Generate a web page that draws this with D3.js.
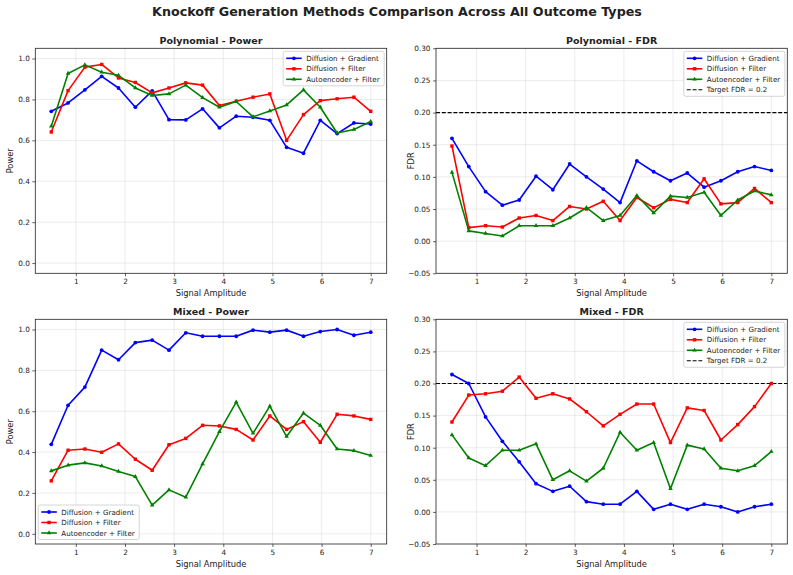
<!DOCTYPE html>
<html>
<head>
<meta charset="utf-8">
<script src="https://cdn.jsdelivr.net/npm/d3@7"></script>
<style>
  body { margin: 0; background: #fff; }
  svg text { font-family: "DejaVu Sans", sans-serif; fill: #222; }
  .tick line { stroke: #222; }
  .domain { display: none; }
</style>
</head>
<body>
<svg id="fig" width="793" height="575"></svg>
<script>
// signal amplitudes (x)
var amplitudes = [0.5, 0.842, 1.184, 1.526, 1.868, 2.211, 2.553, 2.895, 3.237, 3.579,
                  3.921, 4.263, 4.605, 4.947, 5.289, 5.632, 5.974, 6.316, 6.658, 7.0];

var methods = ["Diffusion + Gradient", "Diffusion + Filter", "Autoencoder + Filter"];
var colors = ["#0000ff", "#ff0000", "#008000"];
var markers = ["circle", "square", "triangle"];

// Polynomial - Power
var polyPowerGrad   = [0.742, 0.783, 0.847, 0.913, 0.856, 0.762, 0.842, 0.701, 0.700, 0.754,
                       0.661, 0.718, 0.713, 0.698, 0.566, 0.537, 0.698, 0.633, 0.685, 0.680];
var polyPowerFilter = [0.641, 0.843, 0.958, 0.971, 0.905, 0.883, 0.832, 0.856, 0.881, 0.870,
                       0.770, 0.791, 0.811, 0.827, 0.600, 0.726, 0.794, 0.803, 0.811, 0.742];
var polyPowerAE     = [0.669, 0.927, 0.969, 0.933, 0.918, 0.856, 0.819, 0.827, 0.870, 0.809,
                       0.762, 0.790, 0.715, 0.744, 0.773, 0.847, 0.762, 0.636, 0.653, 0.692];

// Polynomial - FDR
var polyFdrGrad   = [0.160, 0.116, 0.077, 0.056, 0.064, 0.101, 0.080, 0.120, 0.100, 0.081,
                     0.060, 0.125, 0.108, 0.094, 0.106, 0.084, 0.094, 0.108, 0.116, 0.110];
var polyFdrFilter = [0.148, 0.021, 0.024, 0.022, 0.036, 0.040, 0.032, 0.054, 0.050, 0.062,
                     0.032, 0.068, 0.052, 0.065, 0.060, 0.097, 0.058, 0.060, 0.082, 0.060];
var polyFdrAE     = [0.107, 0.016, 0.012, 0.008, 0.024, 0.024, 0.024, 0.036, 0.052, 0.032,
                     0.040, 0.071, 0.044, 0.070, 0.068, 0.076, 0.040, 0.064, 0.078, 0.072];

// Mixed - Power
var mixedPowerGrad   = [0.438, 0.629, 0.718, 0.899, 0.852, 0.936, 0.948, 0.899, 0.984, 0.967,
                        0.967, 0.967, 0.997, 0.987, 0.997, 0.967, 0.990, 1.000, 0.972, 0.987];
var mixedPowerFilter = [0.259, 0.409, 0.415, 0.399, 0.440, 0.365, 0.311, 0.436, 0.467, 0.531,
                        0.528, 0.511, 0.459, 0.577, 0.511, 0.549, 0.448, 0.585, 0.577, 0.560];
var mixedPowerAE     = [0.308, 0.336, 0.347, 0.332, 0.305, 0.280, 0.140, 0.215, 0.179, 0.342,
                        0.500, 0.645, 0.492, 0.625, 0.476, 0.591, 0.531, 0.415, 0.407, 0.383];

// Mixed - FDR
var mixedFdrGrad   = [0.214, 0.200, 0.148, 0.110, 0.078, 0.044, 0.032, 0.040, 0.016, 0.012,
                      0.012, 0.032, 0.004, 0.012, 0.004, 0.012, 0.008, 0.000, 0.008, 0.012];
var mixedFdrFilter = [0.140, 0.182, 0.184, 0.188, 0.210, 0.177, 0.184, 0.176, 0.156, 0.134,
                      0.152, 0.168, 0.168, 0.108, 0.162, 0.158, 0.112, 0.136, 0.164, 0.200];
var mixedFdrAE     = [0.120, 0.084, 0.072, 0.096, 0.096, 0.106, 0.050, 0.064, 0.048, 0.068,
                      0.124, 0.096, 0.108, 0.036, 0.104, 0.098, 0.068, 0.064, 0.072, 0.094];

var xTicks = [1, 2, 3, 4, 5, 6, 7];
var powerTicks = [0.0, 0.2, 0.4, 0.6, 0.8, 1.0];
var fdrTicks = [-0.05, 0.00, 0.05, 0.10, 0.15, 0.20, 0.25, 0.30];
var targetFdr = 0.2;

var svg = d3.select("#fig");

svg.append("text")
    .attr("x", 397).attr("y", 16)
    .attr("text-anchor", "middle")
    .style("font-size", "12.7px").style("font-weight", "bold")
    .text("Knockoff Generation Methods Comparison Across All Outcome Types");

var panels = [
    {title: "Polynomial - Power", ylabel: "Power", series: [polyPowerGrad, polyPowerFilter, polyPowerAE],
     x0: 35.3, x1: 386.7, y0: 48.3, y1: 273.3, ydom: [-0.05, 1.05], yticks: powerTicks, fmt: d3.format(".1f"),
     target: false, legend: "tr"},
    {title: "Polynomial - FDR", ylabel: "FDR", series: [polyFdrGrad, polyFdrFilter, polyFdrAE],
     x0: 436, x1: 787.3, y0: 48.3, y1: 273.3, ydom: [-0.05, 0.30], yticks: fdrTicks, fmt: d3.format(".2f"),
     target: true, legend: "tr"},
    {title: "Mixed - Power", ylabel: "Power", series: [mixedPowerGrad, mixedPowerFilter, mixedPowerAE],
     x0: 35.3, x1: 386.7, y0: 319.3, y1: 544, ydom: [-0.05, 1.05], yticks: powerTicks, fmt: d3.format(".1f"),
     target: false, legend: "bl"},
    {title: "Mixed - FDR", ylabel: "FDR", series: [mixedFdrGrad, mixedFdrFilter, mixedFdrAE],
     x0: 436, x1: 787.3, y0: 319.3, y1: 544, ydom: [-0.05, 0.30], yticks: fdrTicks, fmt: d3.format(".2f"),
     target: true, legend: "tr"}
];

function drawMarker(g, type, x, y, color) {
    if (type === "circle") {
        g.append("circle").attr("cx", x).attr("cy", y).attr("r", 1.9).attr("fill", color);
    } else if (type === "square") {
        g.append("rect").attr("x", x - 1.7).attr("y", y - 1.7).attr("width", 3.4).attr("height", 3.4).attr("fill", color);
    } else {
        g.append("path").attr("d", d3.symbol(d3.symbolTriangle, 9)()).attr("transform", "translate(" + x + "," + y + ")").attr("fill", color);
    }
}

panels.forEach(function (p) {
    var xScale = d3.scaleLinear().domain([0.175, 7.325]).range([p.x0, p.x1]);
    var yScale = d3.scaleLinear().domain(p.ydom).range([p.y1, p.y0]);
    var g = svg.append("g");

    // grid
    g.selectAll(".gx").data(xTicks).enter().append("line")
        .attr("x1", function (d) { return xScale(d); }).attr("x2", function (d) { return xScale(d); })
        .attr("y1", p.y0).attr("y2", p.y1)
        .attr("stroke", "#b0b0b0").attr("stroke-opacity", 0.3).attr("stroke-width", 0.8);
    g.selectAll(".gy").data(p.yticks).enter().append("line")
        .attr("y1", function (d) { return yScale(d); }).attr("y2", function (d) { return yScale(d); })
        .attr("x1", p.x0).attr("x2", p.x1)
        .attr("stroke", "#b0b0b0").attr("stroke-opacity", 0.3).attr("stroke-width", 0.8);

    // axes
    var xAxis = d3.axisBottom(xScale).tickValues(xTicks).tickSize(3).tickPadding(2.5).tickFormat(d3.format("d"));
    var gx = g.append("g").attr("transform", "translate(0," + p.y1 + ")").call(xAxis);
    var yAxis = d3.axisLeft(yScale).tickValues(p.yticks).tickSize(3).tickPadding(2.5)
        .tickFormat(function (d) { return p.fmt(d).replace("-", "\u2212"); });
    var gy = g.append("g").attr("transform", "translate(" + p.x0 + ",0)").call(yAxis);
    [gx, gy].forEach(function (a) {
        a.selectAll("text").style("font-size", "7.3px").style("font-family", "DejaVu Sans").attr("fill", "#222");
        a.selectAll("line").attr("stroke", "#222").attr("stroke-width", 0.7);
    });

    // target line
    if (p.target) {
        g.append("line")
            .attr("x1", p.x0).attr("x2", p.x1)
            .attr("y1", yScale(targetFdr)).attr("y2", yScale(targetFdr))
            .attr("stroke", "#000").attr("stroke-width", 1.1).attr("stroke-dasharray", "4,1.8");
    }

    // series
    var line = d3.line().x(function (d, i) { return xScale(amplitudes[i]); }).y(function (d) { return yScale(d); });
    p.series.forEach(function (s, k) {
        g.append("path").datum(s).attr("d", line)
            .attr("fill", "none").attr("stroke", colors[k]).attr("stroke-width", 1.6)
            .attr("stroke-linejoin", "round");
        s.forEach(function (v, i) {
            drawMarker(g, markers[k], xScale(amplitudes[i]), yScale(v), colors[k]);
        });
    });

    // frame
    g.append("rect").attr("x", p.x0).attr("y", p.y0)
        .attr("width", p.x1 - p.x0).attr("height", p.y1 - p.y0)
        .attr("fill", "none").attr("stroke", "#222").attr("stroke-width", 0.8);

    // titles
    g.append("text").attr("x", (p.x0 + p.x1) / 2).attr("y", p.y0 - 4.5)
        .attr("text-anchor", "middle").style("font-size", "9.5px").style("font-weight", "bold")
        .text(p.title);
    g.append("text").attr("x", (p.x0 + p.x1) / 2).attr("y", p.y1 + 23)
        .attr("text-anchor", "middle").style("font-size", "8.3px")
        .text("Signal Amplitude");
    g.append("text").attr("transform", "translate(" + (p.x0 - 22) + "," + ((p.y0 + p.y1) / 2) + ") rotate(-90)")
        .attr("text-anchor", "middle").style("font-size", "8.3px")
        .text(p.ylabel);

    // legend
    var entries = methods.slice();
    if (p.target) entries.push("Target FDR = 0.2");
    var lw = 101;
    var lh = entries.length * 10.5 + 3;
    var lx = p.legend === "tr" ? p.x1 - lw - 2.5 : p.x0 + 3;
    var ly = p.legend === "tr" ? p.y0 + 3 : p.y1 - lh - 4.5;
    var lg = g.append("g").attr("transform", "translate(" + lx + "," + ly + ")");
    lg.append("rect").attr("width", lw).attr("height", lh).attr("rx", 2)
        .attr("fill", "#fff").attr("fill-opacity", 0.8).attr("stroke", "#ccc").attr("stroke-width", 0.8);
    entries.forEach(function (name, k) {
        var yy = 7 + k * 10.5;
        if (k < 3) {
            lg.append("line").attr("x1", 3).attr("x2", 18.5).attr("y1", yy).attr("y2", yy)
                .attr("stroke", colors[k]).attr("stroke-width", 1.6);
            drawMarker(lg, markers[k], 10.75, yy, colors[k]);
        } else {
            lg.append("line").attr("x1", 3).attr("x2", 18.5).attr("y1", yy).attr("y2", yy)
                .attr("stroke", "#000").attr("stroke-width", 1.1).attr("stroke-dasharray", "4,1.8");
        }
        lg.append("text").attr("x", 23).attr("y", yy + 2.5)
            .style("font-size", "7.1px").text(name);
    });
});
</script>
</body>
</html>
